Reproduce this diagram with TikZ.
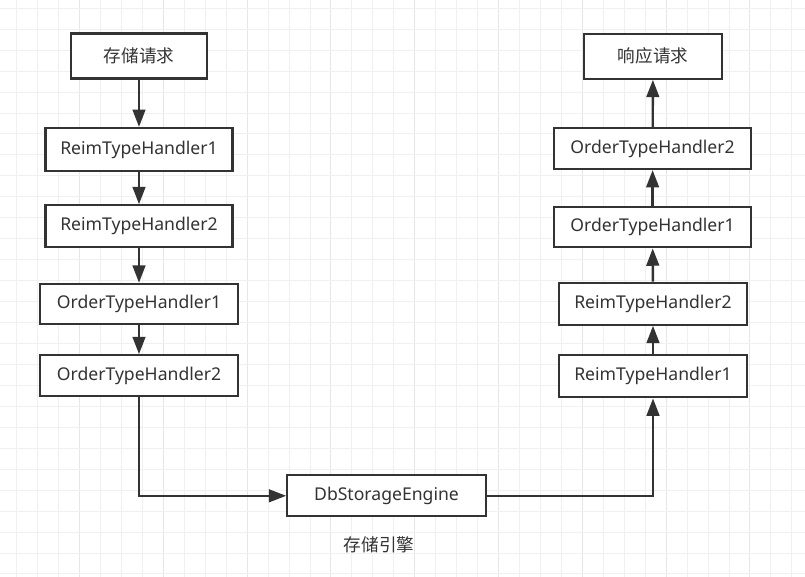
\documentclass[tikz,border=0pt]{standalone}
\usepackage{fontspec}
\setmainfont{Noto Sans}
\newfontfamily\cjk{Noto Sans CJK SC}
\usetikzlibrary{arrows.meta}
\definecolor{ink}{HTML}{333333}
\definecolor{gridminor}{HTML}{F0F0F0}
\definecolor{gridmajor}{HTML}{E6E6E6}
\begin{document}
\begin{tikzpicture}[x=0.75pt,y=-0.75pt,
  box/.style 2 args={draw=ink, line width=1.6pt, fill=white, text=ink,
    inner sep=0pt, minimum width=#1*0.75pt, minimum height=#2*0.75pt,
    font=\fontsize{13.2pt}{15pt}\selectfont},
  link/.style={draw=ink, line width=1.8pt},
  flow/.style={link, -{Triangle[length=13pt,width=9.5pt]}},
  note/.style={text=ink, inner sep=0pt, font=\cjk\fontsize{13.2pt}{15pt}\selectfont}]
  % canvas and background grid
  \useasboundingbox (0,0) rectangle (805,577);
  \fill[white] (0,0) rectangle (805,577);
  \foreach \k in {0,...,37}{
    \pgfmathsetmacro{\gx}{16.7+20.95*\k}
    \pgfmathtruncatemacro{\m}{mod(\k,4)}
    \ifnum\m=3
      \draw[gridmajor, line width=0.75pt] (\gx,0) -- (\gx,577);
    \else
      \draw[gridminor, line width=0.75pt] (\gx,0) -- (\gx,577);
    \fi
  }
  \foreach \k in {0,...,27}{
    \pgfmathsetmacro{\gy}{8.3+20.95*\k}
    \draw[gridminor, line width=0.75pt] (0,\gy) -- (805,\gy);
  }

  % storage chain (left column)
  \node[box={136}{45}] (req) at (139,56) {\cjk 存储请求};
  \node[box={187}{43}] (l1) at (139,149.5) {ReimTypeHandler1};
  \node[box={187}{42}] (l2) at (139,226.3) {ReimTypeHandler2};
  \node[box={198}{40}] (l3) at (139,303.8) {OrderTypeHandler1};
  \node[box={198}{41}] (l4) at (139,375.7) {OrderTypeHandler2};

  % storage engine
  \node[box={198.5}{41}] (db) at (386.5,495.8) {DbStorageEngine};
  \node[note] (dbnote) at (379,545) {存储引擎};

  % response chain (right column)
  \node[box={137.5}{45}] (resp) at (653,56.3) {\cjk 响应请求};
  \node[box={197.5}{40.7}] (r1) at (652.6,148.7) {OrderTypeHandler2};
  \node[box={197.5}{40.3}] (r2) at (652.6,227.2) {OrderTypeHandler1};
  \node[box={188.5}{42}] (r3) at (653,303.7) {ReimTypeHandler2};
  \node[box={188.5}{42.3}] (r4) at (653,376.2) {ReimTypeHandler1};

  % connectors
  \draw[flow] (req) -- (l1);
  \draw[flow] (l1) -- (l2);
  \draw[flow] (l2) -- (l3);
  \draw[flow] (l3) -- (l4);
  \draw[flow] (l4.south) |- (db.west);
  \draw[flow] (db.east) -| (r4.south);
  \draw[flow] (r4) -- (r3);
  \draw[flow] (r3) -- (r2);
  \draw[flow] (r2) -- (r1);
  \draw[flow] (r1) -- (resp);
\end{tikzpicture}
\end{document}
